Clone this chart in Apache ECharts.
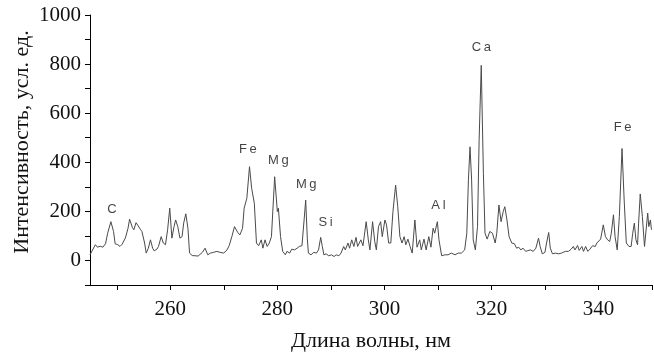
<!DOCTYPE html>
<html>
<head>
<meta charset="utf-8">
<script src="https://cdn.jsdelivr.net/npm/echarts@6/dist/echarts.min.js"></script>
<style>
html,body{margin:0;padding:0;background:#fff;}
#chart{width:654px;height:352px;}
</style>
</head>
<body>
<div id="chart"></div>
<script>
// Wavelength, nm
const wavelengths = [
245.0,246.0,246.4,246.9,247.4,247.9,248.3,248.9,249.4,249.7,250.2,250.6,251.0,251.6,252.1,252.4,252.9,253.2,253.6,254.0,
254.4,254.7,255.2,255.5,255.9,256.3,256.7,257.0,257.5,257.8,258.3,258.7,259.1,259.5,259.9,260.3,260.7,261.0,261.4,261.8,
262.2,262.5,262.9,263.3,263.6,264.1,265.2,266.0,266.5,267.0,267.5,268.1,268.7,269.3,270.0,270.6,271.0,271.5,272.0,272.3,
272.6,273.0,273.5,273.8,274.3,274.8,275.2,275.7,276.1,276.5,277.0,277.3,277.7,278.1,278.5,278.9,279.5,280.0,280.2,280.6,
281.0,281.5,281.8,282.3,282.7,283.2,283.7,284.1,284.6,285.0,285.3,285.6,285.8,286.3,286.8,287.3,287.7,288.1,288.4,288.7,
289.1,289.6,290.1,290.6,291.0,291.5,291.9,292.4,292.7,293.2,293.5,293.9,294.3,294.7,295.0,295.6,296.0,296.6,297.0,297.3,
297.8,298.2,298.5,298.9,299.3,299.6,300.1,300.4,300.8,301.2,301.6,302.1,302.5,302.9,303.3,303.7,304.0,304.4,304.8,305.2,
305.7,306.1,306.6,306.9,307.4,307.8,308.3,308.7,309.1,309.4,309.9,310.2,310.7,311.3,311.9,312.5,313.2,313.8,314.4,315.0,
315.4,315.7,316.0,316.3,316.6,317.0,317.4,317.7,318.1,318.5,318.8,319.2,319.7,320.2,320.7,321.0,321.4,321.8,322.2,322.5,
322.9,323.3,323.8,324.3,324.7,325.1,325.5,325.9,326.4,326.8,327.3,327.8,328.3,328.8,329.1,329.5,330.0,330.3,330.7,331.0,
331.4,332.0,332.5,333.1,333.8,334.4,334.9,335.3,335.6,336.1,336.4,336.9,337.2,337.6,338.0,338.4,338.9,339.4,339.7,340.0,
340.4,340.9,341.3,341.7,342.1,342.4,342.8,343.1,343.5,343.9,344.4,344.8,345.2,345.7,346.1,346.4,346.7,347.0,347.3,347.5,
347.8,348.2,348.6,348.9,349.2,349.4,349.7,349.9
];
// Intensity, arb. units
const intensity = [
23,64,54,58,54,68,111,158,118,68,64,57,66,91,131,168,135,125,154,141,
127,118,71,30,50,84,50,39,46,57,97,71,64,125,213,91,138,165,138,91,
97,152,190,131,30,20,18,33,50,23,30,33,37,33,30,43,60,97,138,131,
114,104,131,213,253,382,294,233,71,60,84,50,84,57,71,97,341,199,213,97,
37,23,37,30,46,43,50,57,60,165,246,90,30,23,33,30,43,94,57,23,
27,19,23,16,23,19,30,57,43,71,50,84,57,94,57,84,60,158,84,43,
158,77,43,138,158,97,165,145,71,71,199,307,219,97,71,97,64,87,57,30,
165,54,84,43,87,43,97,54,131,111,158,84,19,23,23,30,23,30,30,43,
111,328,463,328,84,43,138,490,795,355,111,87,118,111,71,111,226,158,199,219,
165,97,71,68,50,54,43,50,37,40,43,37,50,91,57,27,33,71,114,50,
27,30,27,30,37,37,46,57,43,61,41,57,37,57,37,46,60,57,71,77,
87,145,97,84,77,111,186,97,43,179,456,246,71,57,57,111,152,84,64,152,
271,179,57,57,193,138,165,125
];
// Element annotations (text, wavelength, intensity)
const peakNames = ['C', 'Fe', 'Mg', 'Mg', 'Si', 'Al', 'Ca', 'Fe'];
const peakX = [249.1, 274.5, 280.2, 285.4, 289.0, 310.1, 318.1, 344.5];
const peakY = [206, 452, 406, 310, 154, 226, 869, 542];
// Axis ticks and labels
const xTickValues = [250, 260, 270, 280, 290, 300, 310, 320, 330, 340, 350];
const xLabelValues = [260, 280, 300, 320, 340];
const yLabelValues = [0, 200, 400, 600, 800, 1000];

const xTitle = 'Длина волны, нм';
const yTitle = 'Интенсивность, усл. ед.';

const serif = '"Liberation Serif", "DejaVu Serif", serif';
const sans = '"Liberation Sans", Arial, sans-serif';

const lineData = wavelengths.map((w, i) => [w, intensity[i]]);
const labelData = peakNames.map((n, i) => ({ name: n.split('').join('\u2009'), value: [peakX[i], peakY[i]] }));

const chart = echarts.init(document.getElementById('chart'), null, { renderer: 'canvas' });
chart.setOption({
  backgroundColor: '#fff',
  animation: false,
  grid: { left: 90, right: 2, top: 15, bottom: 67, containLabel: false, outerBoundsMode: 'none' },
  xAxis: {
    type: 'value', min: 245, max: 350,
    axisLine: { onZero: false, lineStyle: { color: '#000', width: 1 } },
    axisTick: { show: true, customValues: xTickValues, length: 5, lineStyle: { color: '#000', width: 1 } },
    axisLabel: { customValues: xLabelValues, fontFamily: serif, fontSize: 21, color: '#111', margin: 14 },
    splitLine: { show: false },
    name: xTitle, nameLocation: 'middle', nameGap: 45,
    nameTextStyle: { fontFamily: serif, fontSize: 22, color: '#111' }
  },
  yAxis: {
    type: 'value', min: -100, max: 1000, interval: 100,
    axisLine: { show: true, lineStyle: { color: '#000', width: 1 } },
    axisTick: { show: true, length: 5, lineStyle: { color: '#000', width: 1 } },
    axisLabel: {
      fontFamily: serif, fontSize: 21, color: '#111', margin: 9,
      formatter: v => (yLabelValues.indexOf(v) >= 0 ? String(v) : '')
    },
    splitLine: { show: false }
  },
  graphic: [{
    type: 'text', x: 22, y: 142, rotation: Math.PI / 2,
    style: { text: yTitle, font: '22px ' + serif, fill: '#111', align: 'center', verticalAlign: 'middle' }
  }],
  series: [{
    type: 'line', data: lineData, symbol: 'none', smooth: false,
    lineStyle: { color: '#4a4a4a', width: 1 }
  }, {
    type: 'scatter', data: labelData, symbolSize: 1,
    itemStyle: { color: 'rgba(0,0,0,0)' },
    label: {
      show: true, position: 'inside', formatter: p => p.name,
      fontFamily: sans, fontSize: 13, color: '#111', align: 'center', verticalAlign: 'middle'
    }
  }]
});
</script>
</body>
</html>
